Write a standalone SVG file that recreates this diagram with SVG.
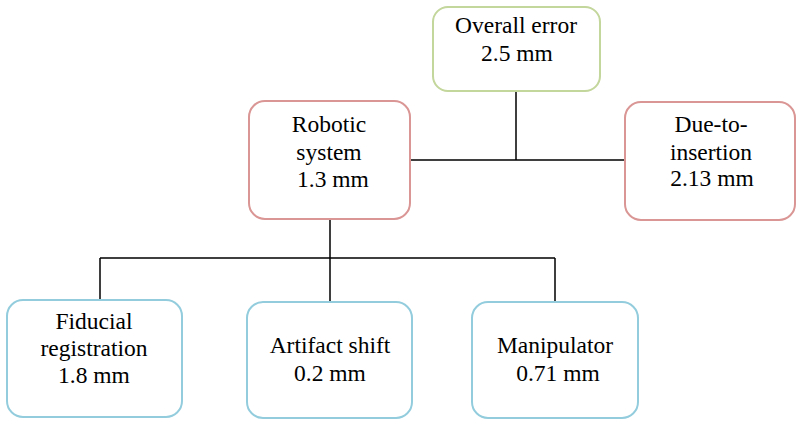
<svg xmlns="http://www.w3.org/2000/svg" width="800" height="426" viewBox="0 0 800 426">
<style>
.box{fill:#fff;stroke-width:2}
.g{stroke:#c3d69b}
.r{stroke:#d99694}
.b{stroke:#93cddd}
text{font-family:"Liberation Serif","Times New Roman",serif;font-size:23.5px;fill:#000;text-anchor:middle}
.conn{stroke:#000;stroke-width:1.5;fill:none}
</style>
<rect width="800" height="426" fill="#fff"/>
<g id="connectors">
<path class="conn" d="M516 91V160M410 160H625"/>
<path class="conn" d="M330 219V258M100 258H555M100 258V300M330 258V302M555 258V302"/>
</g>
<g id="overall">
<rect class="box g" x="433" y="7" width="167" height="84" rx="15"/>
<text x="516" y="33">Overall error</text>
<text x="517" y="61">2.5 mm</text>
</g>
<g id="robotic">
<rect class="box r" x="249" y="101" width="161" height="118" rx="16"/>
<text x="329" y="132">Robotic</text>
<text x="329" y="160">system</text>
<text x="333" y="187">1.3 mm</text>
</g>
<g id="insertion">
<rect class="box r" x="625" y="102" width="170" height="118" rx="16"/>
<text x="711" y="132">Due-to-</text>
<text x="711" y="160">insertion</text>
<text x="712" y="186">2.13 mm</text>
</g>
<g id="fiducial">
<rect class="box b" x="7" y="300" width="175" height="117" rx="16"/>
<text x="94" y="329">Fiducial</text>
<text x="94" y="356">registration</text>
<text x="94" y="383">1.8 mm</text>
</g>
<g id="artifact">
<rect class="box b" x="247" y="302" width="165" height="116" rx="16"/>
<text x="330" y="353">Artifact shift</text>
<text x="330" y="381">0.2 mm</text>
</g>
<g id="manipulator">
<rect class="box b" x="472" y="302" width="166" height="116" rx="16"/>
<text x="555" y="353">Manipulator</text>
<text x="558" y="381">0.71 mm</text>
</g>
</svg>
